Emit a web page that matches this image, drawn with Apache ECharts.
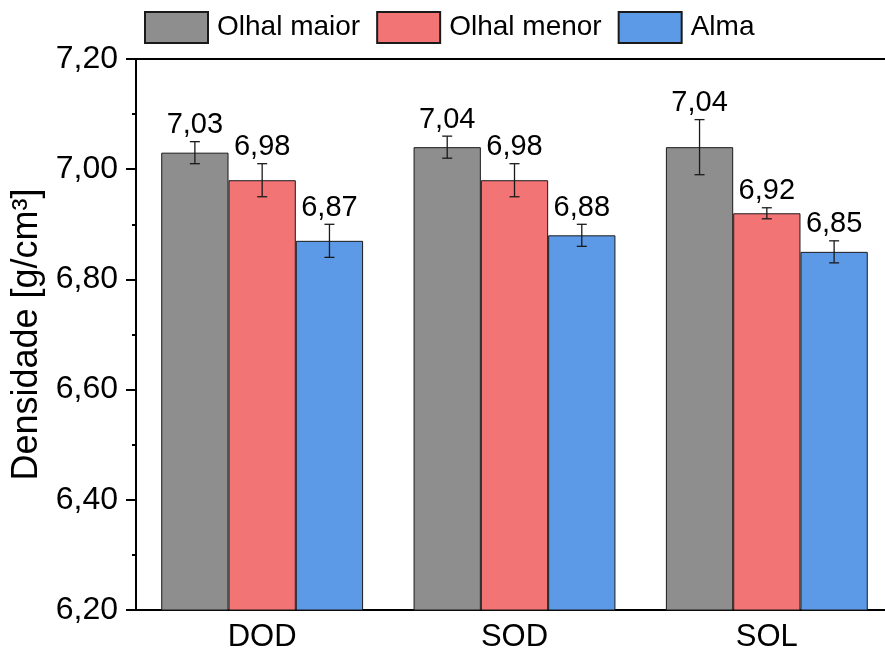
<!DOCTYPE html>
<html>
<head>
<meta charset="utf-8">
<script src="https://cdn.jsdelivr.net/npm/echarts@6/dist/echarts.min.js"></script>
<style>
  html, body { margin: 0; padding: 0; background: #fff; }
  #chart { width: 885px; height: 660px; }
</style>
</head>
<body>
<div id="chart"></div>
<script>
// Density by sample region, grouped by process
const categories = ['DOD', 'SOD', 'SOL'];
const seriesNames = ['Olhal maior', 'Olhal menor', 'Alma'];
const olhalMaior = [7.03, 7.04, 7.04];
const olhalMenor = [6.98, 6.98, 6.92];
const alma = [6.87, 6.88, 6.85];
const olhalMaiorErr = [0.02, 0.02, 0.05];
const olhalMenorErr = [0.03, 0.03, 0.01];
const almaErr = [0.03, 0.02, 0.02];
const yTicks = [6.2, 6.4, 6.6, 6.8, 7.0, 7.2];

const means = [olhalMaior, olhalMenor, alma];
const errs = [olhalMaiorErr, olhalMenorErr, almaErr];
const colors = ['#8E8E8E', '#F27475', '#5C9AE8'];
const FONT = 'Liberation Sans, Arial, sans-serif';
const fmt = v => v.toFixed(2).replace('.', ',');

const barSeries = seriesNames.map((name, i) => ({
  name,
  type: 'bar',
  data: means[i],
  barGap: '0%',
  barCategoryGap: '20%',
  itemStyle: { color: colors[i], borderColor: '#1a1a1a', borderWidth: 1 },
  z: 2
}));

// Error bars and value labels for every bar in one custom series
const errData = [];
seriesNames.forEach((_, s) => {
  categories.forEach((_, c) => {
    errData.push([c, means[s][c], errs[s][c], s]);
  });
});

const errSeries = {
  type: 'custom',
  data: errData,
  z: 5,
  renderItem: function (params, api) {
    const c = api.value(0);
    const m = api.value(1);
    const e = api.value(2);
    const s = api.value(3);
    const catW = api.size([1, 0])[0];
    const barW = catW * 0.8 / 3;
    const x = api.coord([c, m])[0] + (s - 1) * barW;
    const yTop = api.coord([c, m + e])[1];
    const yBot = api.coord([c, m - e])[1];
    const cap = 5;
    const st = { stroke: '#1a1a1a', lineWidth: 1.3 };
    return {
      type: 'group',
      children: [
        { type: 'line', shape: { x1: x, y1: yTop, x2: x, y2: yBot }, style: st },
        { type: 'line', shape: { x1: x - cap, y1: yTop, x2: x + cap, y2: yTop }, style: st },
        { type: 'line', shape: { x1: x - cap, y1: yBot, x2: x + cap, y2: yBot }, style: st },
        {
          type: 'text',
          x: x,
          y: yTop - 2,
          style: {
            text: fmt(m),
            fill: '#000',
            font: '29px ' + FONT,
            textAlign: 'center',
            textVerticalAlign: 'bottom'
          }
        }
      ]
    };
  }
};

const chart = echarts.init(document.getElementById('chart'), null, { renderer: 'canvas' });
chart.setOption({
  animation: false,
  backgroundColor: '#fff',
  textStyle: { fontFamily: FONT },
  legend: {
    data: seriesNames,
    icon: 'rect',
    top: 6,
    left: 139,
    itemWidth: 63,
    itemHeight: 31,
    itemGap: 16,
    textStyle: { fontSize: 28, color: '#000', fontFamily: FONT, padding: [0, 0, 0, 4] }
  },
  grid: {
    left: 136, right: -8, top: 59, bottom: 50,
    containLabel: false,
    outerBoundsMode: 'none',
    show: true, borderColor: '#000', borderWidth: 2
  },
  xAxis: [
    {
      type: 'category',
      data: categories,
      axisLine: { lineStyle: { color: '#000', width: 2 } },
      axisTick: { alignWithLabel: true, length: 10, lineStyle: { color: '#000', width: 2 } },
      axisLabel: { fontSize: 31, color: '#000', fontFamily: FONT, margin: 12 },
      splitLine: { show: false }
    },
    {
      type: 'category',
      data: categories,
      position: 'bottom',
      axisLine: { show: false },
      axisTick: { length: 4, lineStyle: { color: '#000', width: 2 } },
      axisLabel: { show: false },
      splitLine: { show: false }
    }
  ],
  yAxis: {
    type: 'value',
    min: yTicks[0],
    max: yTicks[yTicks.length - 1],
    interval: 0.2,
    name: 'Densidade [g/cm³]',
    nameLocation: 'middle',
    nameGap: 90,
    nameTextStyle: { fontSize: 36, color: '#000', fontFamily: FONT },
    axisLine: { show: true, lineStyle: { color: '#000', width: 2 } },
    axisTick: { show: true, length: 10, lineStyle: { color: '#000', width: 2 } },
    minorTick: { show: true, splitNumber: 2, length: 4, lineStyle: { color: '#000', width: 2 } },
    axisLabel: { fontSize: 32, color: '#000', fontFamily: FONT, margin: 18, formatter: v => fmt(v) },
    splitLine: { show: false }
  },
  series: [...barSeries, errSeries]
});
</script>
</body>
</html>
